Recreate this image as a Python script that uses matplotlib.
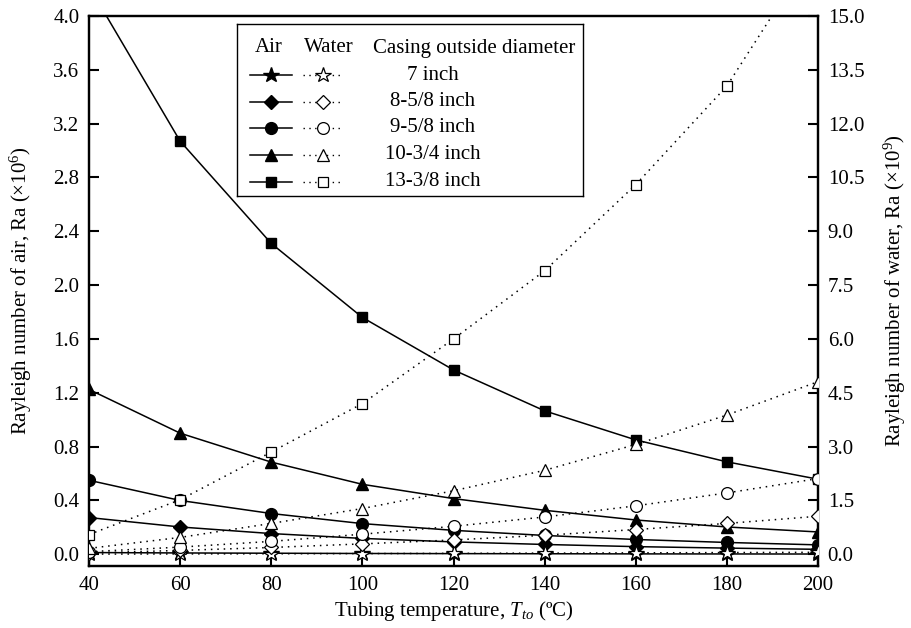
import matplotlib
matplotlib.use("Agg")
import matplotlib.pyplot as plt

# =====================================================
# DATA
# =====================================================
temps = [40, 60, 80, 100, 120, 140, 160, 180, 200]

casings = ["7 inch", "8-5/8 inch", "9-5/8 inch", "10-3/4 inch", "13-3/8 inch"]

# air Rayleigh number, x10^6 (left axis)
air_7 = [0.013, 0.010, 0.008, 0.006, 0.005, 0.004, 0.003, 0.0025, 0.002]
air_858 = [0.273, 0.203, 0.154, 0.118, 0.092, 0.073, 0.057, 0.046, 0.037]
air_958 = [0.55, 0.40, 0.303, 0.228, 0.178, 0.14, 0.11, 0.088, 0.07]
air_1034 = [1.225, 0.90, 0.685, 0.52, 0.414, 0.327, 0.255, 0.203, 0.166]
air_1338 = [4.22, 3.07, 2.31, 1.76, 1.37, 1.066, 0.85, 0.687, 0.558]

# water Rayleigh number, x10^9 (right axis)
water_7 = [0.005, 0.01, 0.015, 0.02, 0.026, 0.032, 0.04, 0.048, 0.055]
water_858 = [0.037, 0.108, 0.19, 0.29, 0.40, 0.53, 0.69, 0.86, 1.06]
water_958 = [0.073, 0.20, 0.36, 0.56, 0.78, 1.04, 1.35, 1.71, 2.11]
water_1034 = [0.165, 0.47, 0.86, 1.275, 1.77, 2.34, 3.06, 3.88, 4.81]
water_1338 = [0.55, 1.52, 2.85, 4.2, 6.0, 7.9, 10.3, 13.05, 17.0]

air_series = [air_7, air_858, air_958, air_1034, air_1338]
water_series = [water_7, water_858, water_958, water_1034, water_1338]

# marker style per casing: (marker, size)
markers = [("*", 11.5), ("D", 7), ("o", 8.5), ("^", 9), ("s", 7.5)]

# =====================================================
# STYLE
# =====================================================
plt.rcParams["font.family"] = ["Liberation Serif", "DejaVu Serif"]
plt.rcParams["mathtext.fontset"] = "custom"
plt.rcParams["mathtext.rm"] = "Liberation Serif"
plt.rcParams["mathtext.it"] = "Liberation Serif:italic"
plt.rcParams["font.size"] = 15

W, H = 911, 628
fig = plt.figure(figsize=(W / 100, H / 100), dpi=100)

L, R, T, B = 89, 818, 16, 566
ax = fig.add_axes([L / W, 1 - B / H, (R - L) / W, (B - T) / H])
ax2 = ax.twinx()

dotted = (0, (1, 3.2))

# ---- air (solid, filled) ----
for vals, (m, ms) in zip(air_series, markers):
    ax.plot(temps, vals, color="black", lw=1.1, marker=m, ms=ms,
            mfc="black", mec="black", mew=1.0, zorder=3)

# ---- water (dotted, open) ----
for vals, (m, ms) in zip(water_series, markers):
    ax2.plot(temps, vals, color="black", lw=1.1, ls=dotted, marker=m, ms=ms,
             mfc="white", mec="black", mew=0.9, zorder=4)

# =====================================================
# AXES
# =====================================================
ax.set_xlim(40, 200)
ax.set_ylim(-0.087, 4.0)
ax2.set_ylim(-0.087 * 3.75, 15.0)

ax.set_xticks(temps)
ax.set_yticks([i * 0.4 for i in range(11)])
ax.set_yticklabels([f"{i * 0.4:.1f}" for i in range(11)])
ax2.set_yticks([i * 1.5 for i in range(11)])
ax2.set_yticklabels([f"{i * 1.5:.1f}" for i in range(11)])

for a in (ax, ax2):
    for s in a.spines.values():
        s.set_linewidth(1.6)

ax.tick_params(axis="both", direction="in", length=7, width=1.5, pad=7,
               labelsize=15, top=False, right=False)
ax2.tick_params(axis="y", direction="in", length=7, width=1.5, pad=7,
                labelsize=15)

ax.set_xlabel(r"Tubing temperature, $\mathit{T}_{\mathit{to}}$ (ºC)", fontsize=15, labelpad=3)
ax.set_ylabel(r"Rayleigh number of air, Ra (×10$^{6}$)", fontsize=15)
ax.yaxis.set_label_coords(-0.075, 0.5)
ax2.set_ylabel(r"Rayleigh number of water, Ra (×10$^{9}$)", fontsize=15)
ax2.yaxis.set_label_coords(1.088, 0.5)

# =====================================================
# LEGEND (drawn in pixel coordinates of its own box)
# =====================================================
lx0, lx1, ly0, ly1 = 237, 583, 24, 196
lg = fig.add_axes([lx0 / W, 1 - ly1 / H, (lx1 - lx0) / W, (ly1 - ly0) / H])
lg.set_xlim(lx0, lx1)
lg.set_ylim(ly1, ly0)
lg.set_xticks([])
lg.set_yticks([])
for s in lg.spines.values():
    s.set_linewidth(1.0)
lg.set_zorder(10)

lg.text(269, 48, "Air", ha="center", va="center", fontsize=15)
lg.text(329, 48, "Water", ha="center", va="center", fontsize=15)
lg.text(373, 48, "Casing outside diameter", ha="left", va="center", fontsize=15)

row_y = [75, 102, 128, 155, 182]
for y, name, (m, ms) in zip(row_y, casings, markers):
    lg.plot([250, 292], [y, y], color="black", lw=1.1)
    lg.plot([271], [y], marker=m, ms=ms, mfc="black", mec="black", ls="none")
    lg.plot([303, 342], [y, y], color="black", lw=1.0, ls=dotted)
    lg.plot([323], [y], marker=m, ms=ms, mfc="white", mec="black", mew=0.9, ls="none")
    lg.text(433, y, name, ha="center", va="center", fontsize=15)

fig.savefig("out.png", dpi=100)
